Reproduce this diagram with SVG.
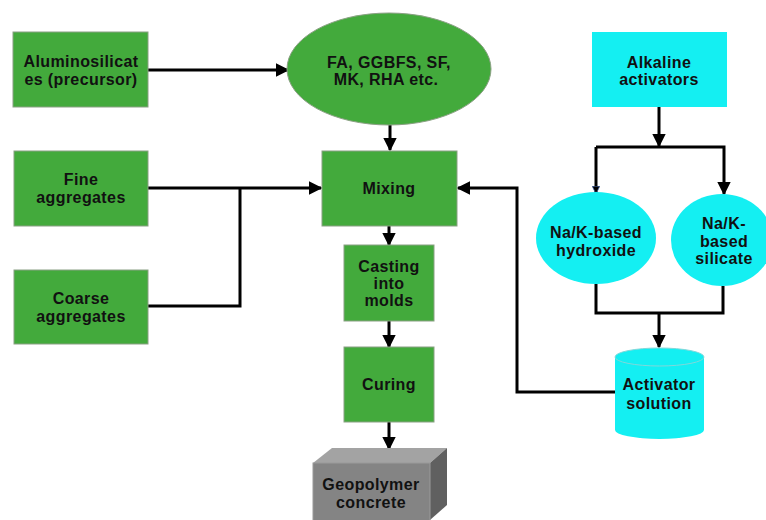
<svg xmlns="http://www.w3.org/2000/svg" width="766" height="520" viewBox="0 0 766 520">
<defs>
<style>
.g{fill:#43aa3c;stroke:#8aa083;stroke-width:1}
.c{fill:#14eff2;stroke:none}
.t{font-family:"Liberation Sans",Arial,sans-serif;font-weight:bold;font-size:16px;letter-spacing:0.4px;fill:#111;text-anchor:middle}
.w{fill:none;stroke:#000;stroke-width:3}
</style>
<marker id="ah" viewBox="0 0 10 10" refX="9" refY="5" markerWidth="4.5" markerHeight="4.5" orient="auto" markerUnits="strokeWidth">
<path d="M0,0 L10,5 L0,10 Z" fill="#000"/>
</marker>
<marker id="ahs" viewBox="0 0 10 10" refX="9" refY="5" markerWidth="2.5" markerHeight="2.5" orient="auto" markerUnits="strokeWidth">
<path d="M0,0 L10,5 L0,10 Z" fill="#000" stroke="#3a5a9a" stroke-width="1"/>
</marker>
</defs>
<rect width="766" height="520" fill="#fff"/>

<g id="connectors">
<line class="w" x1="148" y1="70" x2="288" y2="70" marker-end="url(#ah)"/>
<line class="w" x1="390" y1="125" x2="390" y2="150" marker-end="url(#ah)"/>
<line class="w" x1="148" y1="188" x2="321" y2="188" marker-end="url(#ah)"/>
<polyline class="w" points="148,306 240,306 240,188"/>
<polyline class="w" points="615,392 517,392 517,188 458,188" marker-end="url(#ah)"/>
<line class="w" x1="389" y1="226" x2="389" y2="245" marker-end="url(#ah)"/>
<line class="w" x1="389" y1="321" x2="389" y2="347" marker-end="url(#ah)"/>
<line class="w" x1="389" y1="422" x2="389" y2="449" marker-end="url(#ah)"/>
<line class="w" x1="659" y1="107" x2="659" y2="146" marker-end="url(#ah)"/>
<polyline class="w" points="596,147 724,147 724,194" marker-end="url(#ah)"/>
<line class="w" x1="596" y1="147" x2="596" y2="193" marker-end="url(#ahs)"/>
<polyline class="w" points="596,284 596,313 723,313 723,286"/>
<line class="w" x1="659" y1="313" x2="659" y2="347" marker-end="url(#ah)"/>
</g>

<g id="aluminosilicates">
<rect class="g" x="13" y="32" width="135" height="75"/>
<text class="t" x="81" y="67">Aluminosilicat</text>
<text class="t" x="81" y="85">es (precursor)</text>
</g>
<g id="precursors">
<ellipse class="g" cx="389" cy="69" rx="102" ry="56" stroke="none"/>
<text class="t" x="389" y="68">FA, GGBFS, SF,</text>
<text class="t" x="386" y="85">MK, RHA etc.</text>
</g>
<g id="fine">
<rect class="g" x="14" y="151" width="134" height="75"/>
<text class="t" x="81" y="185">Fine</text>
<text class="t" x="81" y="203">aggregates</text>
</g>
<g id="coarse">
<rect class="g" x="14" y="270" width="134" height="74"/>
<text class="t" x="81" y="304">Coarse</text>
<text class="t" x="81" y="322">aggregates</text>
</g>
<g id="mixing">
<rect class="g" x="322" y="151" width="135" height="75" stroke="#4d6b45"/>
<text class="t" x="389" y="194">Mixing</text>
</g>
<g id="casting">
<rect class="g" x="344" y="245" width="90" height="76" stroke="#4d6b45"/>
<text class="t" x="389" y="272">Casting</text>
<text class="t" x="389" y="289">into</text>
<text class="t" x="389" y="306">molds</text>
</g>
<g id="curing">
<rect class="g" x="344" y="347" width="90" height="75"/>
<text class="t" x="389" y="390">Curing</text>
</g>
<g id="geopolymer">
<polygon points="313,463 332,448 447,448 430,463" fill="#a3a3a3"/>
<polygon points="430,463 447,448 447,505 430,520" fill="#606060"/>
<rect x="313" y="463" width="117" height="60" fill="#848484" stroke="#9a9a9a" stroke-width="1"/>
<text class="t" x="371" y="490">Geopolymer</text>
<text class="t" x="371" y="508">concrete</text>
</g>
<g id="alkaline">
<rect class="c" x="592" y="32" width="135" height="75"/>
<text class="t" x="659" y="68">Alkaline</text>
<text class="t" x="659" y="85">activators</text>
</g>
<g id="hydroxide">
<ellipse class="c" cx="596" cy="238" rx="60" ry="46"/>
<text class="t" x="596" y="238">Na/K-based</text>
<text class="t" x="596" y="256">hydroxide</text>
</g>
<g id="silicate">
<ellipse class="c" cx="722" cy="240" rx="51" ry="46"/>
<text class="t" x="724" y="229">Na/K-</text>
<text class="t" x="724" y="247">based</text>
<text class="t" x="724" y="264">silicate</text>
</g>
<g id="activator">
<path class="c" d="M615,357 L615,430 A44.5,9 0 0 0 704,430 L704,357 Z"/>
<ellipse cx="659.5" cy="357" rx="44.5" ry="9" fill="#14eff2" stroke="#7fd8da" stroke-width="1"/>
<text class="t" x="659" y="390">Activator</text>
<text class="t" x="659" y="409">solution</text>
</g>
</svg>
